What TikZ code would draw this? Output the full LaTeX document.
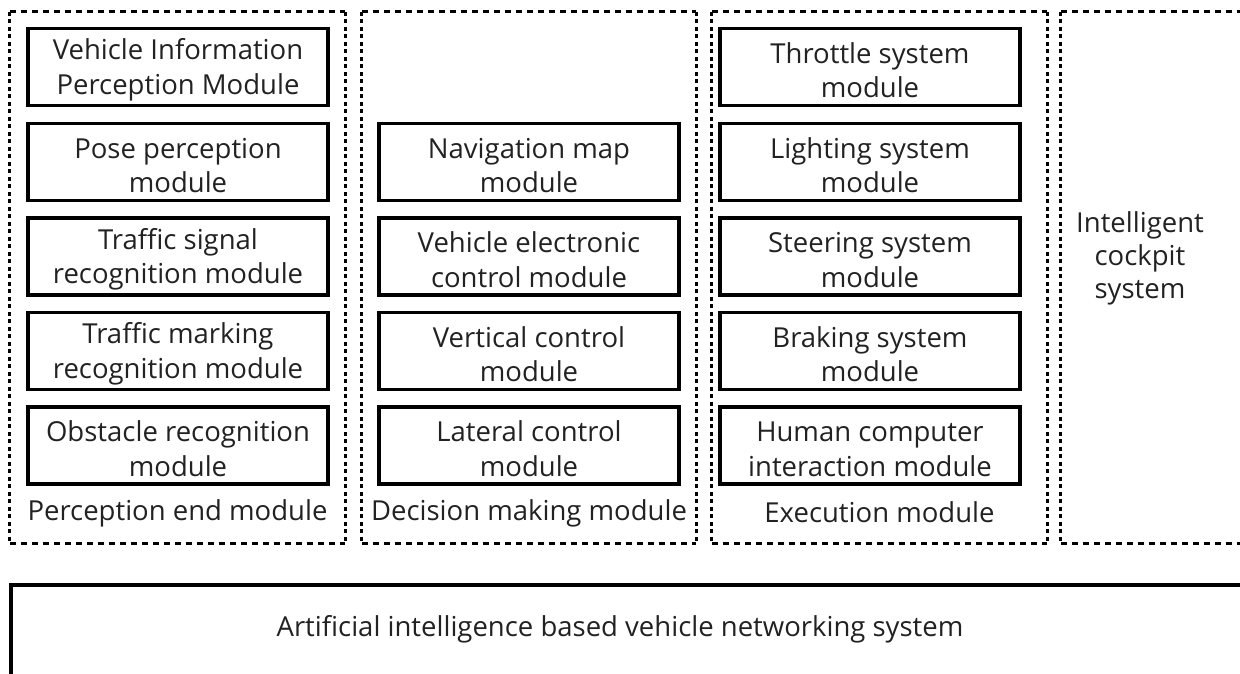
\documentclass[tikz,border=0pt]{standalone}
\usepackage{fontspec}
\setmainfont{Open Sans}
\usetikzlibrary{fit}
\definecolor{txt}{HTML}{222222}
\newcommand{\topstrut}{\rule{0pt}{27pt}}
\tikzset{
  modbox/.style={draw=black, line width=3.5pt, minimum width=300pt, minimum height=77pt,
    inner sep=0pt, align=center, text=txt, font=\fontsize{27.5}{34.5}\selectfont},
  grouplabel/.style={text=txt, font=\fontsize{27.5}{32}\selectfont, inner sep=0pt},
  hdash/.style={line width=3.2pt, dash pattern=on 6.5pt off 4.5pt},
  vdash/.style={line width=3.2pt, dash pattern=on 4pt off 3.5pt},
  container/.style={inner sep=0pt, draw=none}
}
\begin{document}
\begin{tikzpicture}[x=1pt,y=-1pt]
\useasboundingbox (0,0) rectangle (1240,673);
\fill[white] (0,0) rectangle (1240,673);
% column 1
\node[modbox] (p1) at (178,67)    {\topstrut Vehicle Information\\Perception Module};
\node[modbox] (p2) at (178,162)   {\topstrut Pose perception\\module};
\node[modbox] (p3) at (178,256.5) {\topstrut Traffic signal\\recognition module};
\node[modbox] (p4) at (178,351)   {\topstrut Traffic marking\\recognition module};
\node[modbox] (p5) at (178,445.5) {\topstrut Obstacle recognition\\module};
\node[grouplabel] (pl) at (177.5,513) {Perception end module};
% column 2
\node[modbox] (d1) at (529,162)   {\topstrut Navigation map\\module};
\node[modbox] (d2) at (529,256.5) {\topstrut Vehicle electronic\\control module};
\node[modbox] (d3) at (529,351)   {\topstrut Vertical control\\module};
\node[modbox] (d4) at (529,445.5) {\topstrut Lateral control\\module};
\node[grouplabel] (dl) at (529,513) {Decision making module};
% column 3
\node[modbox] (e1) at (870,67)    {\topstrut Throttle system\\module};
\node[modbox] (e2) at (870,162)   {\topstrut Lighting system\\module};
\node[modbox] (e3) at (870,256.5) {\topstrut Steering system\\module};
\node[modbox] (e4) at (870,351)   {\topstrut Braking system\\module};
\node[modbox] (e5) at (870,445.5) {\topstrut Human computer\\interaction module};
\node[grouplabel] (el) at (879.5,512) {Execution module};
% cockpit
\node[text=txt, align=center, font=\fontsize{27.5}{33}\selectfont, inner sep=0pt] (ck) at (1140,258) {Intelligent\\cockpit\\system};
% containers
\coordinate (c1a) at (10,12);   \coordinate (c1b) at (345,543);
\coordinate (c2a) at (362,12);  \coordinate (c2b) at (696,543);
\coordinate (c3a) at (712,12);  \coordinate (c3b) at (1047,543);
\coordinate (c4a) at (1061,12); \coordinate (c4b) at (1260,543);
\node[container, fit=(c1a)(c1b)] (g1) {};
\node[container, fit=(c2a)(c2b)] (g2) {};
\node[container, fit=(c3a)(c3b)] (g3) {};
\node[container, fit=(c4a)(c4b)] (g4) {};
\foreach \g in {g1,g2,g3}{
  \draw[hdash] (\g.north west) -- (\g.north east);
  \draw[hdash] (\g.south west) -- (\g.south east);
  \draw[vdash] (\g.north west) -- (\g.south west);
  \draw[vdash] (\g.north east) -- (\g.south east);
}
\draw[hdash] (g4.north west) -- (g4.north east);
\draw[hdash] (g4.south west) -- (g4.south east);
\draw[vdash] (g4.north west) -- (g4.south west);
% bottom system box
\coordinate (b1) at (11,700);
\coordinate (b2) at (11,585);
\coordinate (b3) at (1260,585);
\draw[line width=3.5pt] (b1) -- (b2) -- (b3);
\node[text=txt, font=\fontsize{27.5}{32}\selectfont, inner sep=0pt] (sys) at (620,629) {Artificial intelligence based vehicle networking system};
\end{tikzpicture}
\end{document}
